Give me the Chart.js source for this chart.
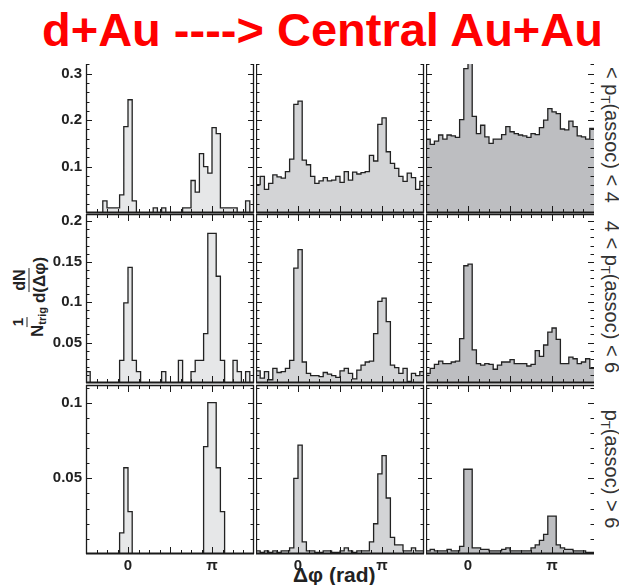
<!DOCTYPE html>
<html><head><meta charset="utf-8">
<script src="https://cdn.jsdelivr.net/npm/chart.js@4.4.1/dist/chart.umd.min.js"></script>
<style>
html,body{margin:0;padding:0;background:#fff;}
#wrap{position:relative;width:619px;height:585px;overflow:hidden;font-family:"Liberation Sans",Arial,Helvetica,sans-serif;}
#wrap canvas{position:absolute;}
.title{position:absolute;left:42px;top:6px;font-size:47px;font-weight:bold;color:#ff0000;line-height:47px;white-space:nowrap;}
.rlab{position:absolute;font-size:20px;color:#333;white-space:nowrap;line-height:22px;transform:translate(-50%,-50%) rotate(90deg);}
.rlab sub{font-size:13px;vertical-align:-4px;}
.xtitle{position:absolute;left:293px;top:564px;font-size:21px;font-weight:bold;color:#222;line-height:21px;white-space:nowrap;}
.ytitle{position:absolute;left:30px;top:297px;transform:translate(-50%,-50%) rotate(-90deg);display:flex;align-items:center;font-weight:bold;color:#222;white-space:nowrap;}
.frac{display:inline-flex;flex-direction:column;align-items:center;margin:0 2px;}
.frac .num{font-size:15px;line-height:16px;padding:0 1px 1px 1px;border-bottom:1.6px solid #222;}
.frac .den{font-size:17px;line-height:18px;padding-top:1px;}
.frac sub{font-size:11px;vertical-align:-3px;}
</style>
</head>
<body>
<div id="wrap">
  <div class="title">d+Au ----&gt; Central Au+Au</div>
  <div class="ytitle">
    <span class="frac"><span class="num">1</span><span class="den">N<sub>trig</sub></span></span>
    <span class="frac"><span class="num" style="font-size:16px">dN</span><span class="den">d(Δφ)</span></span>
  </div>
  <div class="xtitle">Δφ (rad)</div>
  <div class="rlab" style="left:608px;top:135px">&lt; p<sub>T</sub>(assoc) &lt; 4</div>
  <div class="rlab" style="left:608px;top:297px">4 &lt; p<sub>T</sub>(assoc) &lt; 6</div>
  <div class="rlab" style="left:608px;top:469px">p<sub>T</sub>(assoc) &gt; 6</div>
</div>
<script>
// ---------- data ----------
const xMin = -Math.PI / 2;
const xMax = 3 * Math.PI / 2;
const xTickValues = [0, Math.PI];
const xTickLabels = ['0', 'π'];

const yTickLabelsLow  = ['0.1', '0.2', '0.3'];
const yTickLabelsMid  = ['0.05', '0.1', '0.15', '0.2'];
const yTickLabelsHigh = ['0.05', '0.1'];

// row 1 (< pT(assoc) < 4)
const dAu_low = [0.001,0.001,0.001,0.001,0.026,0.011,0.011,0.011,0.039,0.186,0.244,0.026,0.001,0.001,0.001,0.001,0.011,0.001,0.011,0.001,0.001,0.001,0.001,0.011,0.011,0.070,0.045,0.128,0.100,0.086,0.184,0.171,0.011,0.011,0.011,0.011,0.001,0.001,0.026,0.001];
const auMid_low = [0.061,0.079,0.051,0.064,0.082,0.078,0.075,0.089,0.116,0.234,0.241,0.114,0.104,0.079,0.064,0.069,0.076,0.069,0.071,0.079,0.066,0.089,0.071,0.088,0.084,0.087,0.089,0.124,0.112,0.191,0.205,0.132,0.107,0.096,0.079,0.068,0.086,0.076,0.051,0.068];
const auCen_low = [0.159,0.148,0.155,0.168,0.159,0.168,0.166,0.163,0.201,0.311,0.330,0.208,0.171,0.189,0.164,0.150,0.159,0.159,0.169,0.186,0.175,0.171,0.168,0.166,0.163,0.171,0.169,0.184,0.200,0.225,0.218,0.214,0.181,0.179,0.198,0.186,0.166,0.164,0.159,0.182];
// row 2 (4 < pT(assoc) < 6)
const dAu_mid = [0.014,0,0,0,0,0,0,0,0.028,0.099,0.143,0.028,0.014,0,0,0,0,0,0.014,0,0,0,0.028,0,0,0.014,0.028,0.028,0.061,0.185,0.185,0.132,0.028,0,0,0.028,0.014,0,0.014,0];
const auMid_mid = [0.015,0.006,0.014,0.004,0.018,0.013,0.014,0.018,0.028,0.142,0.165,0.026,0.012,0.009,0.009,0.008,0.013,0.011,0.009,0.007,0.015,0.018,0.012,0.005,0.016,0.022,0.026,0.027,0.061,0.101,0.105,0.076,0.022,0.019,0.012,0.018,0.002,0.012,0.009,0.014];
const auCen_mid = [0.012,0.018,0.023,0.027,0.024,0.024,0.026,0.027,0.055,0.145,0.147,0.041,0.024,0.022,0.024,0.023,0.017,0.022,0.026,0.026,0.029,0.024,0.024,0.024,0.021,0.023,0.040,0.033,0.047,0.063,0.068,0.054,0.024,0.024,0.032,0.030,0.024,0.026,0.030,0.018];
// row 3 (pT(assoc) > 6)
const dAu_high = [0,0,0,0,0,0,0,0,0.014,0.057,0.028,0,0,0,0,0,0,0,0,0,0,0,0,0,0,0,0,0,0.071,0.100,0.100,0.057,0.028,0,0,0,0,0,0,0];
const auMid_high = [0.002,0.001,0.002,0.001,0.002,0.001,0.002,0.002,0.004,0.050,0.072,0.008,0.002,0.002,0.001,0.001,0.002,0.002,0.001,0.001,0.002,0.004,0.002,0.001,0.002,0.002,0.002,0.008,0.020,0.053,0.065,0.037,0.011,0.006,0.006,0.002,0.002,0.004,0.002,0.002];
const auCen_high = [0.002,0.003,0.002,0.002,0.002,0.003,0.002,0.002,0.005,0.056,0.056,0.004,0.004,0.003,0.003,0.002,0.002,0.002,0.003,0.004,0.002,0.002,0.002,0.002,0.002,0.004,0.006,0.009,0.013,0.025,0.025,0.006,0.004,0.003,0.003,0.002,0.002,0.002,0.001,0.001];

// ---------- layout / style ----------
const rows = [
  {series:[dAu_low, auMid_low, auCen_low], yMax:0.321, major:0.1, minor:0.02, labels:yTickLabelsLow, top:64, h:149},
  {series:[dAu_mid, auMid_mid, auCen_mid], yMax:0.209, major:0.05, minor:0.01, labels:yTickLabelsMid, top:214, h:169},
  {series:[dAu_high, auMid_high, auCen_high], yMax:0.1117, major:0.05, minor:0.01, labels:yTickLabelsHigh, top:385, h:169}
];
const colLeft = [86, 256, 426];
const colFill = ['#e6e7e8', '#d3d4d6', '#bdbec1'];
const W = 168, YAXW = 46, XAXH = 24, PADT = 10, PADR = 4;
const tickFont = {family:'"Liberation Sans", Arial, sans-serif', size:15, weight:'bold'};

function histPoints(vals){
  const w = (xMax - xMin) / vals.length;
  const pts = vals.map((v, k) => ({x: xMin + k * w, y: v}));
  pts.push({x: xMax, y: vals[vals.length - 1]});
  return pts;
}

const frameTicks = {
  id: 'frameTicks',
  afterDatasetsDraw(chart, args, o){
    const {ctx, chartArea: a} = chart;
    const x = chart.scales.x, y = chart.scales.y;
    ctx.save();
    ctx.strokeStyle = '#1a1a1a';
    ctx.lineWidth = 1;
    ctx.beginPath();
    const nMinor = Math.floor(y.max / o.minor + 1e-6);
    const ratio = Math.round(o.major / o.minor);
    for (let i = 1; i <= nMinor; i++){
      const py = Math.round(y.getPixelForValue(i * o.minor)) + 0.5;
      const L = (i % ratio === 0) ? 6 : 3.5;
      ctx.moveTo(a.left, py); ctx.lineTo(a.left + L, py);
      ctx.moveTo(a.right, py); ctx.lineTo(a.right - L, py);
    }
    for (let i = -3; i <= 11; i++){
      const px = Math.round(x.getPixelForValue(i * Math.PI / 8)) + 0.5;
      const L = (i % 4 === 0) ? 7 : 4;
      ctx.moveTo(px, a.bottom); ctx.lineTo(px, a.bottom - L);
      if (o.topTicks){ ctx.moveTo(px, a.top); ctx.lineTo(px, a.top + L); }
    }
    ctx.stroke();
    ctx.lineWidth = 1.3;
    ctx.beginPath();
    ctx.moveTo(a.left + 0.5, a.top); ctx.lineTo(a.left + 0.5, a.bottom);
    if (o.rightLine){ ctx.moveTo(a.right - 0.5, a.top); ctx.lineTo(a.right - 0.5, a.bottom); }
    if (o.topTicks){ ctx.moveTo(a.left, a.top + 0.5); ctx.lineTo(a.right, a.top + 0.5); }
    ctx.stroke();
    ctx.lineWidth = 2;
    ctx.beginPath();
    ctx.moveTo(a.left, a.bottom - 0.5); ctx.lineTo(a.right, a.bottom - 0.5);
    ctx.stroke();
    ctx.restore();
  }
};

const wrap = document.getElementById('wrap');
rows.forEach((row, r) => {
  row.series.forEach((vals, c) => {
    const first = c === 0, last = r === 2;
    const cv = document.createElement('canvas');
    const cw = (first ? YAXW : 0) + W + PADR;
    const ch = PADT + row.h + (last ? XAXH : PADT);
    cv.width = cw; cv.height = ch;
    cv.style.left = (colLeft[c] - (first ? YAXW : 0)) + 'px';
    cv.style.top = (row.top - PADT) + 'px';
    cv.style.width = cw + 'px'; cv.style.height = ch + 'px';
    wrap.appendChild(cv);
    const yVals = row.labels.map(parseFloat);
    new Chart(cv, {
      type: 'line',
      data: {datasets: [{
        data: histPoints(vals), stepped: true, fill: 'origin',
        borderColor: '#222', borderWidth: 1.3, backgroundColor: colFill[c],
        pointRadius: 0, pointHoverRadius: 0
      }]},
      options: {
        responsive: false, animation: false, events: [],
        devicePixelRatio: 1,
        layout: {padding: {left: 0, top: PADT, right: PADR, bottom: last ? 0 : PADT}},
        plugins: {legend: {display: false}, tooltip: {enabled: false},
          frameTicks: {minor: row.minor, major: row.major, topTicks: r > 0, rightLine: c < 2}},
        scales: {
          x: {type: 'linear', min: xMin, max: xMax, bounds: 'data', display: last,
            grid: {display: false, drawTicks: false}, border: {display: false},
            ticks: {font: tickFont, color: '#222', padding: 3, autoSkip: false, maxRotation: 0,
              callback: (v, i) => xTickLabels[i]},
            afterBuildTicks: s => { s.ticks = xTickValues.map(v => ({value: v})); },
            afterFit: s => { s.height = last ? XAXH : 0; s.paddingLeft = 0; s.paddingRight = 0; }
          },
          y: {type: 'linear', min: 0, max: row.yMax, bounds: 'data', display: first,
            grid: {display: false, drawTicks: false}, border: {display: false},
            ticks: {font: tickFont, color: '#222', padding: 4, autoSkip: false,
              callback: (v, i) => row.labels[i]},
            afterBuildTicks: s => { s.ticks = yVals.map(v => ({value: v})); },
            afterFit: s => { s.width = first ? YAXW : 0; s.paddingTop = 0; s.paddingBottom = 0; }
          }
        }
      },
      plugins: [frameTicks]
    });
  });
});
</script>
</body></html>
